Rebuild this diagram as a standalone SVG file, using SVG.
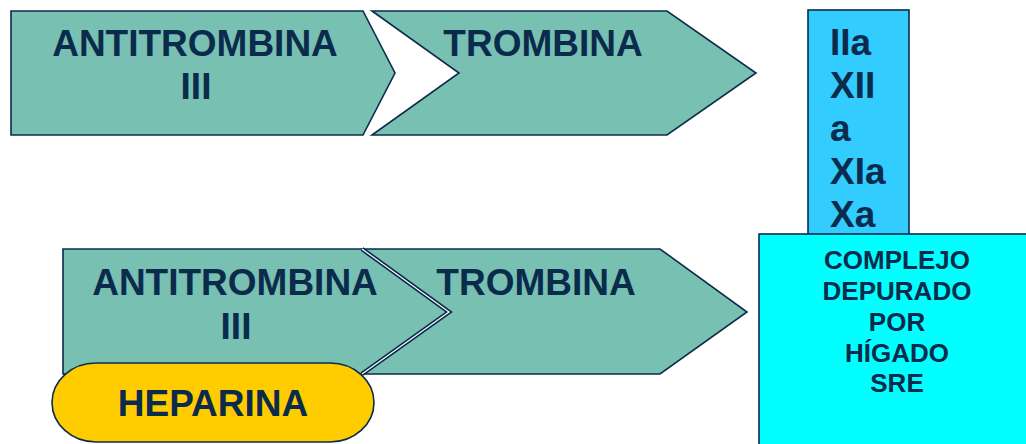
<svg xmlns="http://www.w3.org/2000/svg" width="1026" height="444" viewBox="0 0 1026 444">
<style>
.sh{fill:#78C0B2;stroke:#0B2B4C;stroke-width:1.6;stroke-linejoin:miter}
.t{font-family:"Liberation Sans",Arial,sans-serif;font-weight:bold;fill:#0B2B4C}
.big{font-size:37px}
.c{text-anchor:middle}
.sm{font-size:26px}
</style>
<rect width="1026" height="444" fill="#FFFFFF"/>
<g id="antitrombina-top">
<polygon class="sh" points="11,11 363,11 395,73 363,135 11,135"/>
<text class="t big c" x="195" y="56">ANTITROMBINA</text>
<text class="t big c" x="196" y="99">III</text>
</g>
<g id="trombina-top">
<polygon class="sh" points="372,11 667,11 756,73 667,135 372,135 459,73"/>
<text class="t big c" x="543" y="56">TROMBINA</text>
</g>
<g id="factores">
<rect x="808" y="10" width="101" height="230" fill="#33CCFF" stroke="#0B2B4C" stroke-width="1.6"/>
<text class="t big" x="830" y="55">IIa</text>
<text class="t big" x="830" y="98">XII</text>
<text class="t big" x="830" y="141">a</text>
<text class="t big" x="830" y="184">XIa</text>
<text class="t big" x="830" y="227">Xa</text>
</g>
<g id="complejo">
<rect x="759" y="234" width="280" height="220" fill="#00FFFF" stroke="#0B2B4C" stroke-width="1.6"/>
<text class="t sm c" x="897" y="269">COMPLEJO</text>
<text class="t sm c" x="897" y="300">DEPURADO</text>
<text class="t sm c" x="897" y="331">POR</text>
<text class="t sm c" x="897" y="362">HÍGADO</text>
<text class="t sm c" x="897" y="392">SRE</text>
</g>
<g id="trombina-bottom">
<polygon class="sh" points="363,249 660,249 747,312 660,374 363,374 450,312"/>
<text class="t big c" x="536" y="295">TROMBINA</text>
</g>
<g id="antitrombina-bottom">
<polygon class="sh" points="63,249 362,249 449,312 362,374 63,374"/>
<polyline points="362,249 449,312 362,374" fill="none" stroke="#0B2B4C" stroke-width="4.5"/>
<polyline points="362,249 449,312 362,374" fill="none" stroke="#FFFFFF" stroke-width="1.2"/>
<text class="t big c" x="235" y="295">ANTITROMBINA</text>
<text class="t big c" x="236" y="339">III</text>
</g>
<g id="heparina">
<rect x="52" y="363" width="322" height="79" rx="44" ry="39.5" fill="#FFCC00" stroke="#0B2B4C" stroke-width="1.6"/>
<text class="t big c" x="213" y="416">HEPARINA</text>
</g>
<g id="connectors"></g>
</svg>
